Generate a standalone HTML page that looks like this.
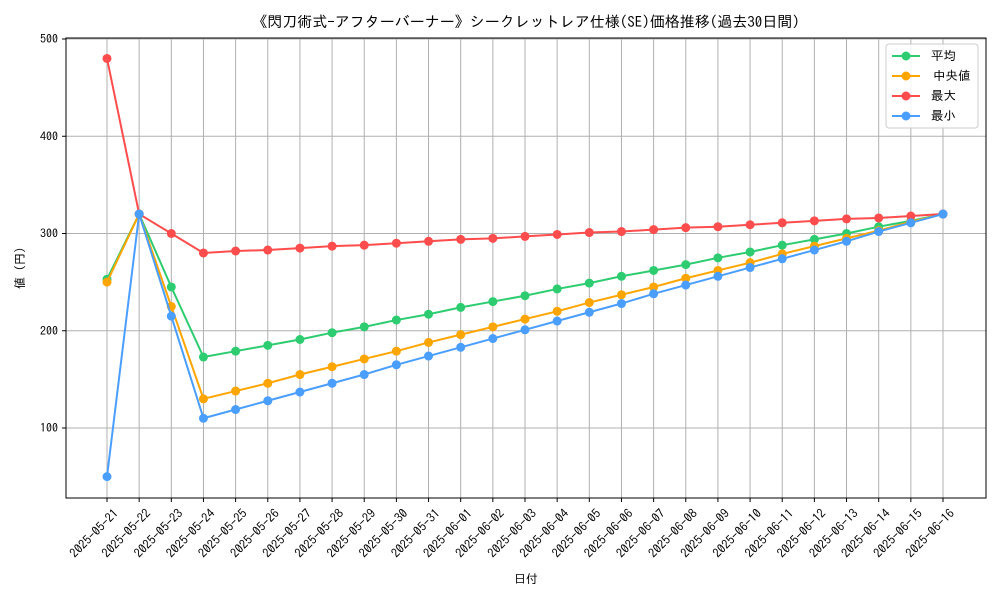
<!DOCTYPE html>
<html><head><meta charset="utf-8">
<style>
body{margin:0;background:#fff;}
svg text{font-family:"IPAGothic","Noto Sans CJK JP",monospace;fill:#000;}
</style></head>
<body>
<svg id="chart" width="1000" height="600" xmlns="http://www.w3.org/2000/svg">
<rect x="0" y="0" width="1000" height="600" fill="#fff"/>
<text x="526" y="27" text-anchor="middle" font-size="15">《閃刀術式-アフターバーナー》シークレットレア仕様(SE)価格推移(過去30日間)</text>
<g id="grid"></g>
<g id="series"></g>
<rect x="66" y="38" width="920" height="460" fill="none" stroke="#000" stroke-width="1"/>
<g id="axes"></g>
<text x="526" y="583" text-anchor="middle" font-size="12">日付</text>
<text transform="translate(24,268) rotate(-90)" text-anchor="middle" font-size="12">値 (円)</text>
<g id="legend"></g>
</svg>
<script>
const categories=["2025-05-21","2025-05-22","2025-05-23","2025-05-24","2025-05-25","2025-05-26","2025-05-27","2025-05-28","2025-05-29","2025-05-30","2025-05-31","2025-06-01","2025-06-02","2025-06-03","2025-06-04","2025-06-05","2025-06-06","2025-06-07","2025-06-08","2025-06-09","2025-06-10","2025-06-11","2025-06-12","2025-06-13","2025-06-14","2025-06-15","2025-06-16"];
const avgValues=[253,320,245,173,179,185,191,198,204,211,217,224,230,236,243,249,256,262,268,275,281,288,294,300,307,313,320];
const medianValues=[250,320,225,130,138,146,155,163,171,179,188,196,204,212,220,229,237,245,254,262,270,279,287,295,303,312,320];
const maxValues=[480,320,300,280,282,283,285,287,288,290,292,294,295,297,299,301,302,304,306,307,309,311,313,315,316,318,320];
const minValues=[50,320,215,110,119,128,137,146,155,165,174,183,192,201,210,219,228,238,247,256,265,274,283,292,302,311,320];
const yTicks=[100,200,300,400,500];
const seriesNames=["平均","中央値","最大","最小"];
const NS="http://www.w3.org/2000/svg";
function mk(t,a,p){const e=document.createElementNS(NS,t);for(const k in a)e.setAttribute(k,a[k]);p.appendChild(e);return e;}
function xs(i){return 107+i*(943-107)/(categories.length-1);}
function ys(v){return 428-(v-100)*0.9725;}
const grid=document.getElementById('grid'),axes=document.getElementById('axes'),ser=document.getElementById('series'),leg=document.getElementById('legend');
categories.forEach((c,i)=>{
  const x=xs(i);
  const g=mk('line',{x1:x,x2:x,y1:38,y2:498,stroke:'#b0b0b0','stroke-width':1},grid);
  
  
  mk('line',{x1:x,x2:x,y1:498,y2:502,stroke:'#000'},axes);
  const t=mk('text',{transform:`translate(${x+6},${508}) rotate(-45)`,'text-anchor':'end','font-size':'12.5','dominant-baseline':'hanging'},axes);
  t.textContent=c;
  
  
});
yTicks.forEach(v=>{
  const y=ys(v);
  const g=mk('line',{x1:66,x2:986,y1:y,y2:y,stroke:'#b0b0b0','stroke-width':1},grid);
  
  
  mk('line',{x1:62,x2:66,y1:y,y2:y,stroke:'#000'},axes);
  const t=mk('text',{x:58,y:y+4,'text-anchor':'end','font-size':'12'},axes);
  t.textContent=v;
  
  
});
const all=[[avgValues,'#2ecc71','avg'],[medianValues,'#ffa500','median'],[maxValues,'#ff4c4c','max'],[minValues,'#4a9eff','min']];
all.forEach(([vals,col,n])=>{
  const pl=mk('polyline',{points:vals.map((v,i)=>xs(i)+','+ys(v)).join(' '),fill:'none',stroke:col,'stroke-width':2},ser);
  
  
  vals.forEach((v,i)=>{
    const c=mk('circle',{cx:xs(i),cy:ys(v),r:4.5,fill:col},ser);
    
    
  });
});
const lb=mk('rect',{x:886,y:44,width:92,height:84,rx:3,fill:'#fff','fill-opacity':0.85,stroke:'#ccc'},leg);


all.forEach(([v,col,n],i)=>{
  const y=56+i*20;
  const l=mk('line',{x1:892,x2:920,y1:y,y2:y,stroke:col,'stroke-width':2},leg);
  
  
  mk('circle',{cx:906,cy:y,r:4.5,fill:col},leg);
  const t=mk('text',{x:i==1?933:931,y:y+4,'font-size':'12.5'},leg);
  t.textContent=seriesNames[i];
  
  
});
</script>
</body></html>
